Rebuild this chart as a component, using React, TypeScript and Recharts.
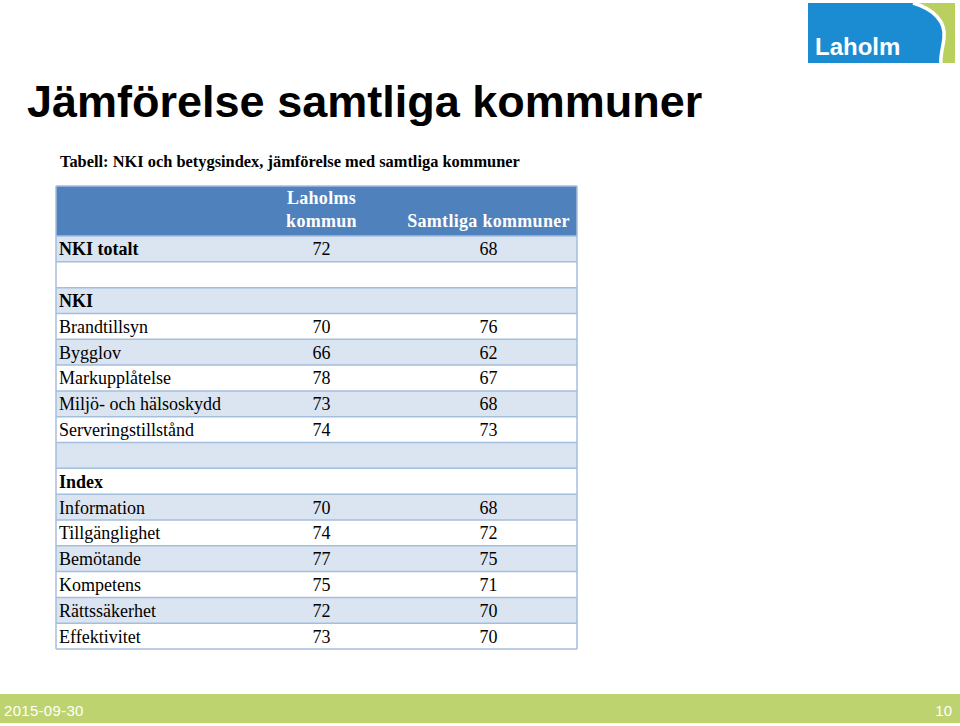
import { ScatterChart, Scatter, XAxis, YAxis, CartesianGrid } from 'recharts';

const ROW_LABELS = [
  'NKI totalt',
  '',
  'NKI',
  'Brandtillsyn',
  'Bygglov',
  'Markupplåtelse',
  'Miljö- och hälsoskydd',
  'Serveringstillstånd',
  '',
  'Index',
  'Information',
  'Tillgänglighet',
  'Bemötande',
  'Kompetens',
  'Rättssäkerhet',
  'Effektivitet',
];

const BOLD_ROWS = ['NKI totalt', 'NKI', 'Index'];

const COLUMN_HEADERS = [['Laholms', 'kommun'], ['Samtliga kommuner']];

const LAHOLM = [72, null, null, 70, 66, 78, 73, 74, null, null, 70, 74, 77, 75, 72, 73];
const SAMTLIGA = [68, null, null, 76, 62, 67, 68, 73, null, null, 68, 72, 75, 71, 70, 70];

const COLUMNS = COLUMN_HEADERS.map((lines) => lines.join(' '));
const ROW_IDS = ROW_LABELS.map((_, i) => `r${i}`);

const laholmCells = ROW_IDS.map((row, i) => ({ col: COLUMNS[0], row, value: LAHOLM[i] }));
const samtligaCells = ROW_IDS.map((row, i) => ({ col: COLUMNS[1], row, value: SAMTLIGA[i] }));

const HEADER_BLUE = '#4f81bd';
const ROW_LIGHT = '#dbe5f1';
const ROW_WHITE = '#ffffff';
const BORDER = '#a4bedd';
const SERIF = '"Liberation Serif", "Times New Roman", serif';
const SANS = '"Liberation Sans", Arial, sans-serif';

const stripeFills = [HEADER_BLUE, ...ROW_IDS.map((_, i) => (i % 2 === 0 ? ROW_LIGHT : ROW_WHITE))];

// row edges: top of header, top of first row, then the bottom of each row band
const rowEdges = (args: any) => {
  const yAxis = args?.yAxis;
  const offset = args?.offset || {};
  const scale = yAxis?.scale;
  let ends: number[];
  if (typeof scale === 'function' && scale.bandwidth) {
    const bw = scale.bandwidth();
    ends = ROW_IDS.map((id) => scale(id) + bw);
  } else if (scale && typeof scale.map === 'function' && typeof scale.bandwidth === 'function') {
    const bw = scale.bandwidth();
    ends = ROW_IDS.map((id) => scale.map(id) + bw);
  } else {
    const step = offset.height / ROW_IDS.length;
    ends = ROW_IDS.map((_, i) => offset.top + step * (i + 1));
  }
  return [1, offset.top, ...ends.sort((a, b) => a - b)];
};

const HeaderTick = (props: any) => {
  const { x, payload } = props;
  const idx = COLUMNS.indexOf(payload.value);
  const lines = COLUMN_HEADERS[idx] || [];
  return (
    <g>
      {lines.map((line, i) => (
        <text
          key={i}
          x={x}
          y={42 - (lines.length - 1 - i) * 23}
          textAnchor="middle"
          fontFamily={SERIF}
          fontWeight="bold"
          fontSize={18}
          letterSpacing={0.3}
          fill="#ffffff"
        >
          {line}
        </text>
      ))}
    </g>
  );
};

const LabelTick = (props: any) => {
  const { y, payload } = props;
  const label = ROW_LABELS[ROW_IDS.indexOf(payload.value)];
  if (!label) return <g />;
  return (
    <text
      x={4}
      y={y}
      dy="0.36em"
      fontFamily={SERIF}
      fontSize={18}
      fontWeight={BOLD_ROWS.includes(label) ? 'bold' : 'normal'}
      fill="#000000"
    >
      {label}
    </text>
  );
};

const ValueCell = (props: any) => {
  const { cx, cy, payload } = props;
  if (!payload || payload.value == null) return <g />;
  return (
    <text x={cx} y={cy} dy="0.36em" textAnchor="middle" fontFamily={SERIF} fontSize={18} fill="#000000">
      {payload.value}
    </text>
  );
};

function Logo() {
  return (
    <g>
      <rect x={808} y={3} width={147} height={60} fill="#1b8cd2" />
      <path d="M913 3 C 934 9, 946 22, 944 38 C 943 48, 940 56, 941 63 L 955 63 L 955 3 Z" fill="#b9cf5e" />
      <path d="M913 3 C 934 9, 946 22, 944 38 C 943 48, 940 56, 941 63" fill="none" stroke="#ffffff" strokeWidth={3.5} />
      <text x={815} y={55} fontFamily={SANS} fontWeight="bold" fontSize={24} fill="#ffffff">
        Laholm
      </text>
    </g>
  );
}

export default function App() {
  return (
    <div style={{ position: 'absolute', left: 0, top: 0, width: 960, height: 726, background: '#ffffff' }}>
      <svg width={960} height={726} style={{ position: 'absolute', left: 0, top: 0 }}>
        <Logo />
        <text x={27} y={117} fontFamily={SANS} fontWeight="bold" fontSize={45} fill="#000000">
          Jämförelse samtliga kommuner
        </text>
        <text x={60} y={167} fontFamily={SERIF} fontWeight="bold" fontSize={16.4} fill="#000000">
          Tabell: NKI och betygsindex, jämförelse med samtliga kommuner
        </text>
        <rect x={0} y={694} width={960} height={29} fill="#bdd36f" />
        <text x={4} y={716} fontFamily={SANS} fontSize={15} letterSpacing={0.3} fill="#ffffff">
          2015-09-30
        </text>
        <text x={952} y={716} textAnchor="end" fontFamily={SANS} fontSize={15} fill="#ffffff">
          10
        </text>
      </svg>

      <div style={{ position: 'absolute', left: 55, top: 185 }}>
        <ScatterChart width={523} height={466} margin={{ top: 0, right: 6, bottom: 2, left: 0 }}>
          <CartesianGrid
            x={1}
            y={1}
            width={521}
            height={463}
            horizontalCoordinatesGenerator={rowEdges}
            verticalPoints={[1, 522]}
            horizontalFill={stripeFills}
            stroke={BORDER}
            strokeWidth={1.5}
            strokeDasharray=""
          />
          <XAxis
            xAxisId={0}
            type="category"
            dataKey="col"
            orientation="top"
            height={51}
            allowDuplicatedCategory={false}
            axisLine={false}
            tickLine={false}
            tick={<HeaderTick />}
          />
          <YAxis
            yAxisId={0}
            type="category"
            dataKey="row"
            width={183}
            reversed
            allowDuplicatedCategory={false}
            axisLine={false}
            tickLine={false}
            tick={<LabelTick />}
            interval={0}
          />
          <Scatter data={laholmCells} shape={<ValueCell />} isAnimationActive={false} />
          <Scatter data={samtligaCells} shape={<ValueCell />} isAnimationActive={false} />
        </ScatterChart>
      </div>
    </div>
  );
}
